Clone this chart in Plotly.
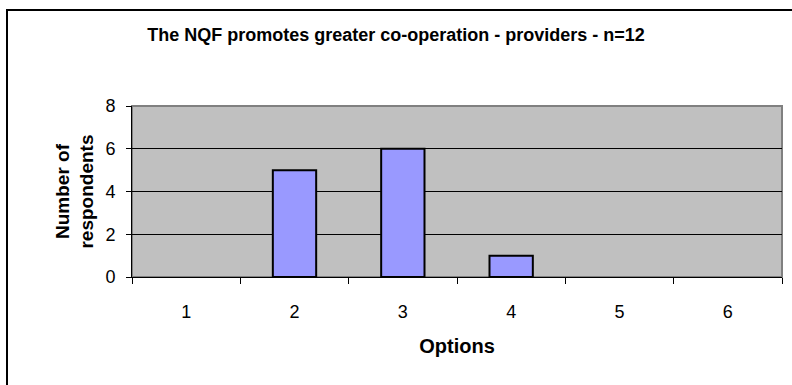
import plotly.graph_objects as go

# Survey responses per option
options = ["1", "2", "3", "4", "5", "6"]
respondents = [0, 5, 6, 1, 0, 0]
y_ticks = [0, 2, 4, 6, 8]

title_text = "The NQF promotes greater co-operation - providers - n=12"
x_title = "Options"
y_title = "Number of<br>respondents"

W, H = 792, 385
ML, MR, MT, MB = 132, 10, 106, 108
PW, PH = W - ML - MR, H - MT - MB

FONT = "Arial, Liberation Sans, sans-serif"

# empty categories get no outline so nothing is drawn at zero
outline_widths = [2 if v > 0 else 0 for v in respondents]

fig = go.Figure(
    go.Bar(
        x=options,
        y=respondents,
        marker=dict(color="#9999FF", line=dict(color="black", width=outline_widths)),
    )
)

# outer chart frame (right and bottom edges run off the page)
fig.add_shape(
    type="rect", xref="paper", yref="paper",
    x0=(7 - ML) / PW, x1=(W + 20 - ML) / PW,
    y0=-(H + 20 - MT - PH) / PH, y1=(MT + PH - 10) / PH,
    line=dict(color="black", width=2), fillcolor="rgba(0,0,0,0)", layer="below",
)
# plot area frame
fig.add_shape(
    type="rect", xref="paper", yref="paper", x0=0, x1=1, y0=0, y1=1,
    line=dict(color="#808080", width=2), fillcolor="#C0C0C0", layer="below",
)

fig.update_layout(
    width=W, height=H,
    margin=dict(l=ML, r=MR, t=MT, b=MB, pad=0),
    paper_bgcolor="white",
    plot_bgcolor="#C0C0C0",
    showlegend=False,
    bargap=0.6,
    font=dict(family=FONT, size=18, color="black"),
    title=dict(
        text=f"<b>{title_text}</b>",
        x=0.5, xanchor="center", xref="container",
        y=1 - 35 / H, yanchor="middle", yref="container",
        font=dict(size=18, family=FONT),
    ),
    xaxis=dict(
        type="category",
        tickson="boundaries",
        ticks="outside", ticklen=6, tickcolor="black", tickwidth=1,
        showline=True, linecolor="black", linewidth=1,
        showgrid=False, zeroline=False,
        tickfont=dict(size=18),
        ticklabelstandoff=18,
        title=dict(text=f"<b>{x_title}</b>", standoff=18, font=dict(size=20)),
    ),
    yaxis=dict(
        range=[0, 8],
        tickvals=y_ticks,
        ticks="outside", ticklen=5, tickcolor="black", tickwidth=1,
        showline=True, linecolor="black", linewidth=1,
        showgrid=True, gridcolor="black", gridwidth=1,
        zeroline=False,
        tickfont=dict(size=18),
        ticklabelstandoff=7,
        title=dict(text=f"<b>{y_title}</b>", standoff=6, font=dict(size=19)),
    ),
)

fig.write_html("out.html")
